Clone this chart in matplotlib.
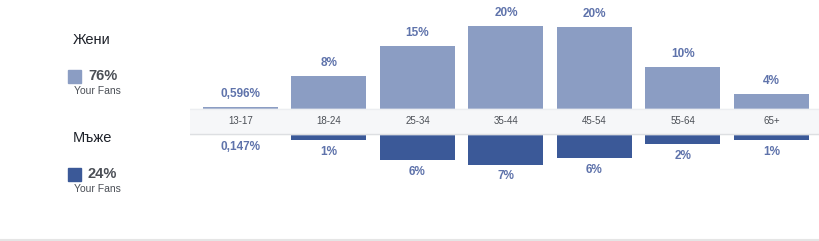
import matplotlib
matplotlib.use('Agg')
import matplotlib.pyplot as plt

plt.rcParams['font.family'] = ['Liberation Sans', 'DejaVu Sans']

# Datos
grupos_edad = ['13-17', '18-24', '25-34', '35-44', '45-54', '55-64', '65+']
mujeres = [0.4, 8.0, 15.2, 20.0, 19.8, 10.1, 3.6]
hombres = [0.3, 1.5, 6.4, 7.5, 6.0, 2.6, 1.5]
etiquetas_mujeres = ['0,596%', '8%', '15%', '20%', '20%', '10%', '4%']
etiquetas_hombres = ['0,147%', '1%', '6%', '7%', '6%', '2%', '1%']
leyenda_titulos = ['Жени', 'Мъже']
leyenda_totales = ['76%', '24%']

COLOR_MUJER = '#8b9dc3'
COLOR_HOMBRE = '#3b5998'
COLOR_TEXTO = '#5f73ab'
COLOR_GRIS = '#4b4f56'

W, H = 820, 241
fig = plt.figure(figsize=(W / 100, H / 100), dpi=100)
fig.patch.set_facecolor('white')

# eje de barras: empieza en x=190px
ax = fig.add_axes([190 / W, 0, 1 - 190 / W, 1])
paso = 88.5
ax.set_xlim((190 - 240.5) / paso, (820 - 240.5) / paso)
px = 4.15  # pixeles por punto porcentual
ax.set_ylim(-(H - 109) / px, 109 / px)
ax.axis('off')

banda = 24.5 / px
x = list(range(len(grupos_edad)))
ancho = 75 / paso

ax.bar(x, mujeres, width=ancho, bottom=0, color=COLOR_MUJER, zorder=2)
ax.bar(x, [-h for h in hombres], width=ancho, bottom=-banda, color=COLOR_HOMBRE, zorder=2)

# franja gris con los grupos de edad
ax.axhspan(-banda, 0, color='#f6f7f9', zorder=3)
ax.axhline(0, color='#eceef1', lw=1, zorder=4)
ax.axhline(-banda, color='#dddfe2', lw=1, zorder=4)

for i, g in enumerate(grupos_edad):
    ax.text(i, -banda / 2, g, ha='center', va='center', fontsize=7, color=COLOR_GRIS, zorder=5)
    ax.text(i, mujeres[i] + 1.7, etiquetas_mujeres[i], ha='center', va='bottom',
            fontsize=8.5, fontweight='bold', color=COLOR_TEXTO, zorder=5)
    ax.text(i, -banda - hombres[i] - 1.4, etiquetas_hombres[i], ha='center', va='top',
            fontsize=8.5, fontweight='bold', color=COLOR_TEXTO, zorder=5)

# leyenda a la izquierda
colores = [COLOR_MUJER, COLOR_HOMBRE]
y_titulo = [40, 138]
for k in range(2):
    yt = y_titulo[k]
    fig.text(92 / W, 1 - yt / H, leyenda_titulos[k], ha='center', va='center',
             fontsize=10.5, color='#1d2129')
    fig.patches.append(plt.Rectangle((68 / W, 1 - (yt + 43) / H), 13 / W, 13 / H,
                                     transform=fig.transFigure, color=colores[k]))
    fig.text(88 / W, 1 - (yt + 36) / H, leyenda_totales[k], ha='left', va='center',
             fontsize=10.5, fontweight='bold', color=COLOR_GRIS)
    fig.text(97 / W, 1 - (yt + 51) / H, 'Your Fans', ha='center', va='center',
             fontsize=7.5, color=COLOR_GRIS)

# linea inferior
fig.add_artist(plt.Line2D([0, 1], [1 - 240 / H, 1 - 240 / H], transform=fig.transFigure,
                          color='#e5e5e5', lw=1.5))

plt.savefig('out.png', dpi=100)
plt.close(fig)
